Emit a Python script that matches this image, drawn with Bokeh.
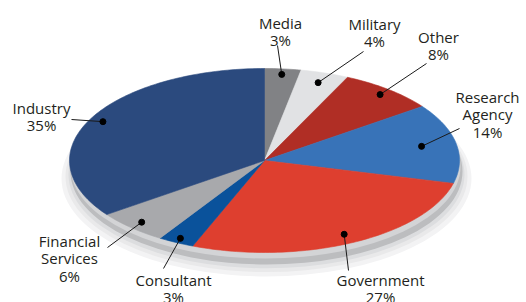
import numpy as np
from bokeh.plotting import figure
from bokeh.models import Range1d
from bokeh.core.properties import value
from bokeh.embed import file_html
from bokeh.resources import INLINE

# ---- data (clockwise from 12 o'clock) ----
categories = [["Media"], ["Military"], ["Other"], ["Research", "Agency"], ["Government"],
              ["Consultant"], ["Financial", "Services"], ["Industry"]]
shares = [3, 4, 8, 14, 27, 3, 6, 35]
colors = ["#818285", "#e1e2e4", "#b02e25", "#3873b8", "#de3f2f",
          "#0a529b", "#a8a9ac", "#2b4a7e"]

# ---- layout (pixel coordinates of the page image) ----
cx, cy, rx, ry = 264, 160, 195, 92
dot_r = [0.94, 0.89, 0.93, 0.82, 0.90, 0.95, 0.92, 0.93]
label_xy = [(280, 22), (374, 23), (438, 36), (487, 96),
            (380, 279), (173, 279), (69, 240), (41, 107)]
line_h = 17.5
leader_end = [(277, 45), (363, 51), (426, 63), (459, 128),
              (348, 270), (163, 268), (107, 247), (71, 119)]

W, H = 526, 302
p = figure(width=W, height=H, output_backend="svg", toolbar_location=None,
           x_range=Range1d(0, W), y_range=Range1d(H, 0),
           min_border=0, outline_line_color=None)
p.axis.visible = False
p.grid.visible = False
p.background_fill_color = "white"
p.border_fill_color = "white"

# soft shadow + side of the disc
for dy, grow, col in [(18, 10, "#f3f3f4"), (16, 6, "#e9e9ea"), (14, 3, "#dcdddf")]:
    p.ellipse(x=cx + 2, y=cy + dy, width=2 * (rx + grow), height=2 * (ry + grow * 0.6),
              fill_color=col, line_color=None)
p.ellipse(x=cx + 2, y=cy + 11, width=2 * rx + 2, height=2 * ry + 2,
          fill_color="#bcbdbf", line_color=None)
p.ellipse(x=cx + 1, y=cy + 6, width=2 * rx, height=2 * ry,
          fill_color="#d3d4d6", line_color=None)

# slices
xs, ys, mids = [], [], []
cum = 0.0
for s in shares:
    a0 = np.deg2rad(90 - cum * 3.6)
    a1 = np.deg2rad(90 - (cum + s) * 3.6)
    t = np.linspace(a0, a1, max(int(s * 3), 8))
    xs.append([cx] + list(cx + rx * np.cos(t)))
    ys.append([cy] + list(cy - ry * np.sin(t)))
    mids.append(np.deg2rad(90 - (cum + s / 2) * 3.6))
    cum += s
p.patches(xs=xs, ys=ys, fill_color=colors, line_color=colors, line_width=0.6)

# leaders and dots
dx = [cx + r * rx * np.cos(m) for r, m in zip(dot_r, mids)]
dy = [cy - r * ry * np.sin(m) for r, m in zip(dot_r, mids)]
p.segment(x0=dx, y0=dy, x1=[e[0] for e in leader_end], y1=[e[1] for e in leader_end],
          line_color="#1a1a1a", line_width=1)
p.scatter(x=dx, y=dy, size=6, fill_color="black", line_color="black")

# labels, one text per line
tx, ty, tt = [], [], []
for lines, v, (lx, ly) in zip(categories, shares, label_xy):
    for i, ln in enumerate(lines + [f"{v}%"]):
        tx.append(lx)
        ty.append(ly + i * line_h)
        tt.append(ln)
p.text(x=tx, y=ty, text=tt, text_font=value("Open Sans"), text_font_size="15px",
       text_color="#231f20", text_align="center", text_baseline="middle")

open("out.html", "w").write(file_html(p, INLINE))
